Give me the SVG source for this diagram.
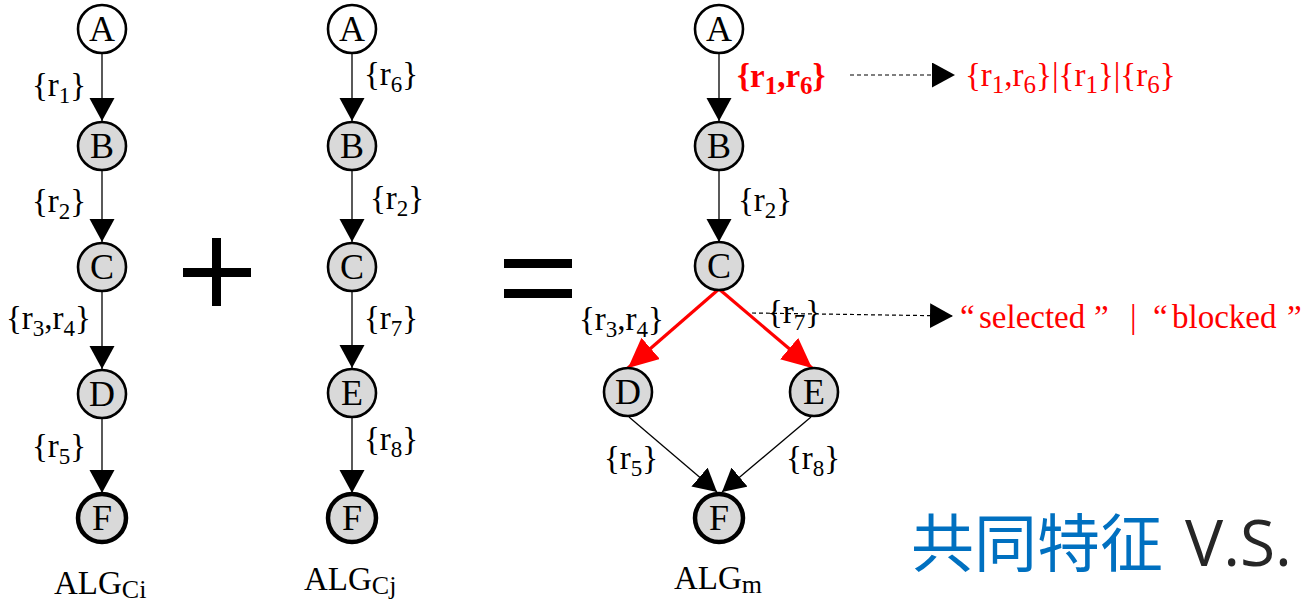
<svg xmlns="http://www.w3.org/2000/svg" width="1306" height="606" viewBox="0 0 1306 606">
<style>
.n{stroke:#000;stroke-width:2.6;fill:#d9d9d9}
.a{fill:#fff}
.f{stroke-width:4.5}
.t{font-family:"Liberation Serif","Times New Roman",serif;font-size:36px;fill:#000}
.nt{text-anchor:middle}
.lbl{font-family:"Liberation Serif","Times New Roman",serif;font-size:33px;fill:#000}
.red{fill:#ff0000}
.e{stroke:#000;stroke-width:1.3;fill:none;marker-end:url(#ah)}
.er{stroke:#ff0000;stroke-width:3.2;fill:none;marker-end:url(#ahr)}
.d{stroke:#000;stroke-width:1.2;stroke-dasharray:4 3;fill:none;marker-end:url(#ah)}
</style>
<defs>
<marker id="ah" markerUnits="userSpaceOnUse" markerWidth="24" markerHeight="26" refX="23" refY="12.5" orient="auto" viewBox="0 0 24 26">
<path d="M0,0 L23,12.5 L0,25 z" fill="#000"/>
</marker>
<marker id="ahr" markerUnits="userSpaceOnUse" markerWidth="32" markerHeight="30" refX="30" refY="14" orient="auto" viewBox="0 0 32 30">
<path d="M0,0 L30,14 L0,28 z" fill="#ff0000"/>
</marker>
</defs>

<g id="connectors">
<line class="e" x1="102" y1="53" x2="102" y2="121"/>
<line class="e" x1="102" y1="170" x2="102" y2="242"/>
<line class="e" x1="102" y1="291" x2="102" y2="369"/>
<line class="e" x1="102" y1="418" x2="102" y2="493"/>
<line class="e" x1="352" y1="53" x2="352" y2="121"/>
<line class="e" x1="352" y1="170" x2="352" y2="242"/>
<line class="e" x1="352" y1="291" x2="352" y2="368"/>
<line class="e" x1="352" y1="417" x2="352" y2="493"/>
<line class="e" x1="719" y1="53" x2="719" y2="121"/>
<line class="e" x1="719" y1="170" x2="719" y2="242"/>
<line class="er" x1="719" y1="289" x2="628" y2="368"/>
<line class="er" x1="719" y1="289" x2="812" y2="368"/>
<line class="e" x1="629" y1="417" x2="717" y2="492"/>
<line class="e" x1="811" y1="417" x2="722" y2="492"/>
<line class="d" x1="850" y1="75" x2="955" y2="75"/>
<line class="d" x1="752" y1="313" x2="953" y2="316"/>
</g>

<g id="ops">
<rect x="183" y="268" width="68" height="9" fill="#000"/>
<rect x="212" y="238" width="9" height="68" fill="#000"/>
<rect x="504" y="259" width="68" height="9" fill="#000"/>
<rect x="504" y="289" width="68" height="9" fill="#000"/>
</g>

<g id="ci-A"><circle class="n a" cx="102" cy="29" r="24"/><text class="t nt" x="102" y="41">A</text></g>
<g id="ci-B"><circle class="n" cx="102" cy="146" r="24"/><text class="t nt" x="102" y="158">B</text></g>
<g id="ci-C"><circle class="n" cx="102" cy="267" r="24"/><text class="t nt" x="102" y="279">C</text></g>
<g id="ci-D"><circle class="n" cx="102" cy="394" r="24"/><text class="t nt" x="102" y="406">D</text></g>
<g id="ci-F"><circle class="n f" cx="102" cy="518" r="24"/><text class="t nt" x="102" y="530">F</text></g>

<g id="cj-A"><circle class="n a" cx="352" cy="29" r="24"/><text class="t nt" x="352" y="41">A</text></g>
<g id="cj-B"><circle class="n" cx="352" cy="146" r="24"/><text class="t nt" x="352" y="158">B</text></g>
<g id="cj-C"><circle class="n" cx="352" cy="267" r="24"/><text class="t nt" x="352" y="279">C</text></g>
<g id="cj-E"><circle class="n" cx="352" cy="393" r="24"/><text class="t nt" x="352" y="405">E</text></g>
<g id="cj-F"><circle class="n f" cx="352" cy="518" r="24"/><text class="t nt" x="352" y="530">F</text></g>

<g id="m-A"><circle class="n a" cx="719" cy="29" r="24"/><text class="t nt" x="719" y="41">A</text></g>
<g id="m-B"><circle class="n" cx="719" cy="146" r="24"/><text class="t nt" x="719" y="158">B</text></g>
<g id="m-C"><circle class="n" cx="719" cy="266" r="24"/><text class="t nt" x="719" y="278">C</text></g>
<g id="m-D"><circle class="n" cx="628" cy="392" r="24"/><text class="t nt" x="628" y="404">D</text></g>
<g id="m-E"><circle class="n" cx="814" cy="392" r="24"/><text class="t nt" x="814" y="404">E</text></g>
<g id="m-F"><circle class="n f" cx="719" cy="518" r="24"/><text class="t nt" x="719" y="530">F</text></g>

<g id="labels">
<text class="lbl" x="32" y="96">{r<tspan font-size="23" dy="7">1</tspan><tspan dy="-7">}</tspan></text>
<text class="lbl" x="32" y="212">{r<tspan font-size="23" dy="7">2</tspan><tspan dy="-7">}</tspan></text>
<text class="lbl" x="6" y="329">{r<tspan font-size="23" dy="7">3</tspan><tspan dy="-7">,r</tspan><tspan font-size="23" dy="7">4</tspan><tspan dy="-7">}</tspan></text>
<text class="lbl" x="32" y="457">{r<tspan font-size="23" dy="7">5</tspan><tspan dy="-7">}</tspan></text>

<text class="lbl" x="364" y="85">{r<tspan font-size="23" dy="7">6</tspan><tspan dy="-7">}</tspan></text>
<text class="lbl" x="370" y="209">{r<tspan font-size="23" dy="7">2</tspan><tspan dy="-7">}</tspan></text>
<text class="lbl" x="364" y="329">{r<tspan font-size="23" dy="7">7</tspan><tspan dy="-7">}</tspan></text>
<text class="lbl" x="364" y="450">{r<tspan font-size="23" dy="7">8</tspan><tspan dy="-7">}</tspan></text>

<text class="lbl red" x="737" y="87" font-weight="bold" font-size="37">{r<tspan font-size="25" dy="7">1</tspan><tspan dy="-7">,r</tspan><tspan font-size="25" dy="7">6</tspan><tspan dy="-7">}</tspan></text>
<text class="lbl" x="738" y="211">{r<tspan font-size="23" dy="7">2</tspan><tspan dy="-7">}</tspan></text>
<text class="lbl" x="579" y="330">{r<tspan font-size="23" dy="7">3</tspan><tspan dy="-7">,r</tspan><tspan font-size="23" dy="7">4</tspan><tspan dy="-7">}</tspan></text>
<text class="lbl" x="767" y="323">{r<tspan font-size="23" dy="7">7</tspan><tspan dy="-7">}</tspan></text>
<text class="lbl" x="604" y="469">{r<tspan font-size="23" dy="7">5</tspan><tspan dy="-7">}</tspan></text>
<text class="lbl" x="786" y="469">{r<tspan font-size="23" dy="7">8</tspan><tspan dy="-7">}</tspan></text>

<text class="lbl red" x="965" y="86" font-size="36">{r<tspan font-size="25" dy="7">1</tspan><tspan dy="-7">,r</tspan><tspan font-size="25" dy="7">6</tspan><tspan dy="-7">}|{r</tspan><tspan font-size="25" dy="7">1</tspan><tspan dy="-7">}|{r</tspan><tspan font-size="25" dy="7">6</tspan><tspan dy="-7">}</tspan></text>
<text class="lbl red" y="328" font-size="38"><tspan x="960">“</tspan><tspan x="979">selected</tspan><tspan x="1094">”</tspan><tspan x="1130">|</tspan><tspan x="1153">“</tspan><tspan x="1172">blocked</tspan><tspan x="1287">”</tspan></text>

<text class="lbl" x="54" y="594" font-size="36">ALG<tspan font-size="26" dy="4">Ci</tspan></text>
<text class="lbl" x="304" y="590" font-size="36">ALG<tspan font-size="26" dy="4">Cj</tspan></text>
<text class="lbl" x="674" y="589" font-size="36">ALG<tspan font-size="26" dy="4">m</tspan></text>

<text x="911" y="566" font-family="'Noto Sans CJK SC','Noto Sans',sans-serif" font-size="63" fill="#0070c0">共同特征<tspan x="1185" fill="#262626" font-family="'Open Sans','Noto Sans',sans-serif" font-size="64">V.S.</tspan></text>
</g>
</svg>
